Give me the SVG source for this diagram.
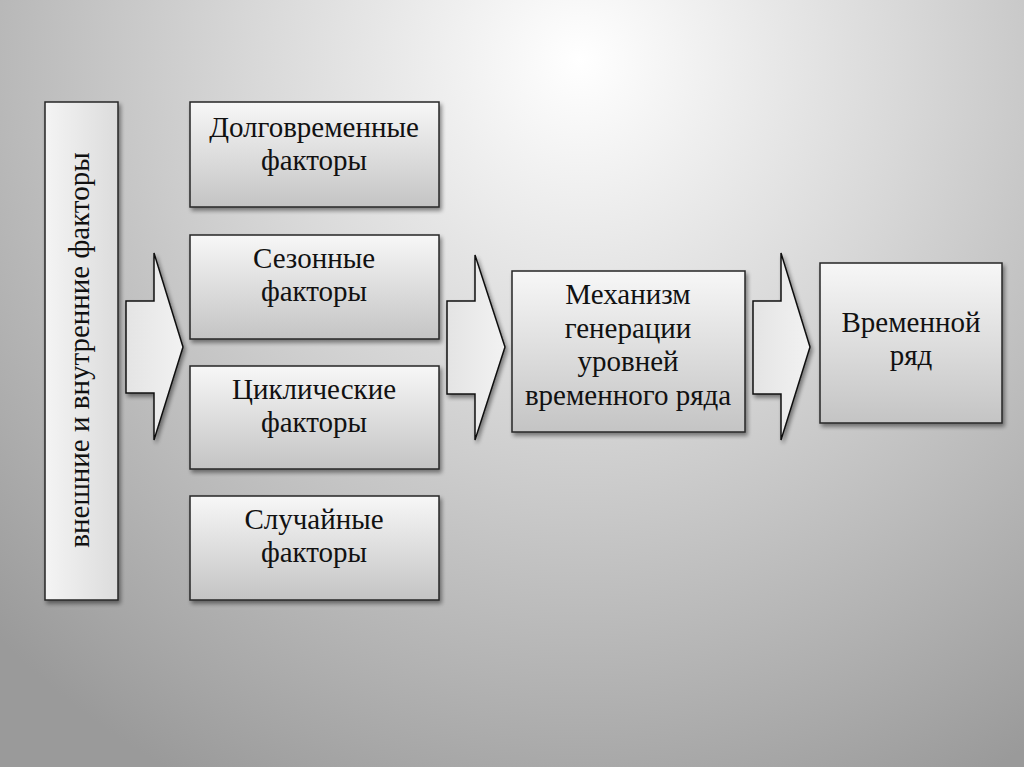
<svg xmlns="http://www.w3.org/2000/svg" width="1024" height="767" viewBox="0 0 1024 767">
<defs>
<radialGradient id="bg" cx="580" cy="60" r="820" gradientUnits="userSpaceOnUse">
<stop offset="0" stop-color="#ffffff"/>
<stop offset="0.4" stop-color="#d8d8d8"/>
<stop offset="1" stop-color="#9a9a9a"/>
</radialGradient>
<linearGradient id="box" x1="0" y1="0" x2="0" y2="1">
<stop offset="0" stop-color="#f7f7f7"/>
<stop offset="1" stop-color="#c4c4c4"/>
</linearGradient>
<linearGradient id="boxv" x1="0" y1="0" x2="1" y2="0">
<stop offset="0" stop-color="#f4f4f4"/>
<stop offset="1" stop-color="#dcdcdc"/>
</linearGradient>
<linearGradient id="arr" x1="0" y1="0" x2="1" y2="0">
<stop offset="0" stop-color="#e4e4e4"/>
<stop offset="1" stop-color="#f2f2f2"/>
</linearGradient>
<filter id="sh" x="-10%" y="-10%" width="130%" height="130%">
<feGaussianBlur in="SourceAlpha" stdDeviation="2"/>
<feOffset dx="2" dy="3"/>
<feComponentTransfer><feFuncA type="linear" slope="0.45"/></feComponentTransfer>
<feMerge><feMergeNode/><feMergeNode in="SourceGraphic"/></feMerge>
</filter>
</defs>
<style>
.b{fill:url(#box);stroke:#262626;stroke-width:1.5;filter:url(#sh)}
.a{fill:url(#arr);stroke:#111;stroke-width:1.5;filter:url(#sh)}
text{font-family:"Liberation Serif","Times New Roman",serif;font-size:29px;fill:#111;text-anchor:middle}
</style>
<rect width="1024" height="767" fill="url(#bg)"/>
<g id="connectors">
<polygon class="a" points="126,301 154,301 154,253 183,347 154,440 154,393 126,393"/>
<polygon class="a" points="447,301 475,301 475,255 505,347 475,440 475,394 447,394"/>
<polygon class="a" points="753,301 781,301 781,253 810,347 781,440 781,394 753,394"/>
</g>
<g id="external">
<rect x="45" y="102" width="73" height="498" fill="url(#boxv)" stroke="#262626" stroke-width="1.5" filter="url(#sh)"/>
<text transform="translate(89,350) rotate(-90)">внешние и внутренние факторы</text>
</g>
<g id="long">
<rect class="b" x="190" y="102" width="249" height="105"/>
<text x="314" y="137">Долговременные</text>
<text x="314" y="170">факторы</text>
</g>
<g id="season">
<rect class="b" x="190" y="235" width="249" height="104"/>
<text x="314" y="268">Сезонные</text>
<text x="314" y="301">факторы</text>
</g>
<g id="cyclic">
<rect class="b" x="190" y="366" width="249" height="103"/>
<text x="314" y="399">Циклические</text>
<text x="314" y="432">факторы</text>
</g>
<g id="random">
<rect class="b" x="190" y="496" width="249" height="104"/>
<text x="314" y="529">Случайные</text>
<text x="314" y="562">факторы</text>
</g>
<g id="mechanism">
<rect class="b" x="512" y="271" width="233" height="161"/>
<text x="628" y="304">Механизм</text>
<text x="628" y="338">генерации</text>
<text x="628" y="371">уровней</text>
<text x="628" y="405">временного ряда</text>
</g>
<g id="series">
<rect class="b" x="820" y="263" width="182" height="160"/>
<text x="911" y="332">Временной</text>
<text x="911" y="365">ряд</text>
</g>
</svg>
